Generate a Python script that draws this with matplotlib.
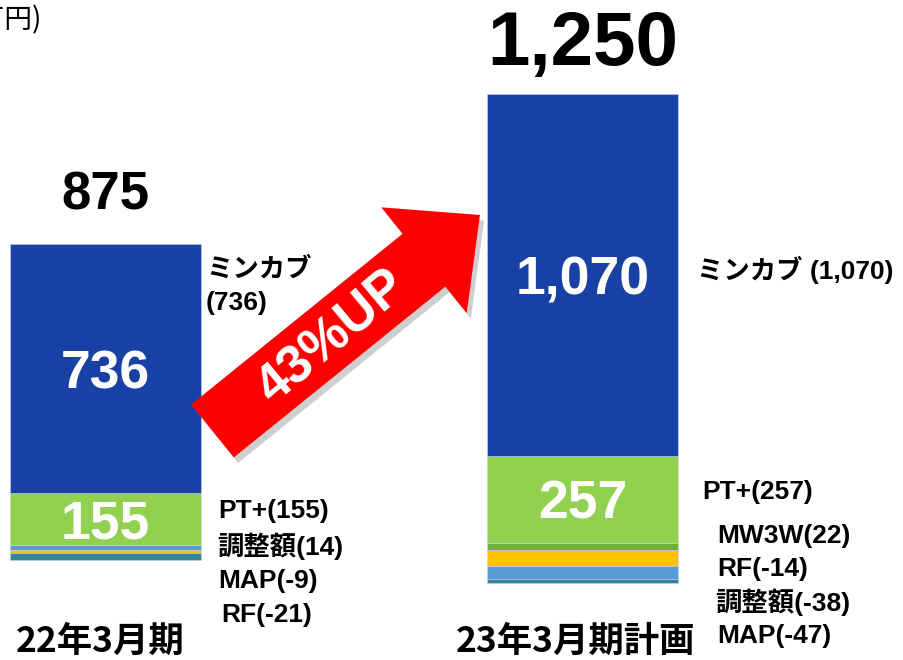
import matplotlib
matplotlib.use("Agg")
import matplotlib.pyplot as plt
import matplotlib.patheffects as pe
from matplotlib.patches import FancyArrow
import numpy as np

categories = ['22年3月期', '23年3月期計画']
totals = [875, 1250]

# segment values per period (stack order from the zero line outwards)
seg_names = ['MAP', '調整額', 'MW3W', 'RF', 'PT+', 'ミンカブ']
seg_values = {
    'MAP': [-9, -47],
    '調整額': [14, -38],
    'MW3W': [0, 22],
    'RF': [-21, -14],
    'PT+': [155, 257],
    'ミンカブ': [736, 1070],
}
seg_colors = {
    'MAP': '#FFC000',
    '調整額': '#5B9BD5',
    'MW3W': '#70AD47',
    'RF': '#31859C',
    'PT+': '#92D050',
    'ミンカブ': '#1941A5',
}
inside_labels = ['ミンカブ', 'PT+']

left_side = ['ミンカブ\n(736)', 'PT+(155)', '調整額(14)', 'MAP(-9)', 'RF(-21)']
right_side = ['ミンカブ (1,070)', 'PT+(257)', 'MW3W(22)', 'RF(-14)', '調整額(-38)', 'MAP(-47)']

FONT = ['Liberation Sans', 'Noto Sans CJK JP', 'DejaVu Sans']
CJK = ['Noto Sans CJK JP', 'DejaVu Sans']

fig = plt.figure(figsize=(9.04, 6.6), dpi=100)
ax = fig.add_axes([0, 0, 1, 1])
ax.set_xlim(-0.2209, 1.6723)
ax.set_ylim(-325.4, 1627.2)
ax.axis('off')

x = np.arange(len(categories))
width = 0.4
pos_base = np.zeros(len(categories))
neg_base = np.zeros(len(categories))
for name in seg_names:
    vals = np.array(seg_values[name], dtype=float)
    base = np.where(vals >= 0, pos_base, neg_base)
    ax.bar(x, vals, width, bottom=base, color=seg_colors[name],
           edgecolor='#c8d4ea', linewidth=0.4)
    if name in inside_labels:
        for xi, b, v in zip(x, base, vals):
            ax.annotate(f'{int(v):,}', (xi, b + v / 2), xytext=(0, -4),
                        textcoords='offset points', ha='center', va='center',
                        color='white', fontsize=38.5, fontweight='bold', family=FONT)
    pos_base = pos_base + np.where(vals > 0, vals, 0)
    neg_base = neg_base + np.where(vals < 0, vals, 0)

# totals above the bars
total_sizes = [38, 55]
total_offsets = [35, 35]
for xi, top, t, fs, off in zip(x, pos_base, totals, total_sizes, total_offsets):
    ax.annotate(f'{t:,}', (xi, top), xytext=(0, off), textcoords='offset points',
                ha='center', va='center', fontsize=fs, fontweight='bold',
                family=FONT, color='black')

# overlay in pixel coordinates for the annotations
ov = fig.add_axes([0, 0, 1, 1])
ov.set_xlim(0, 904)
ov.set_ylim(660, 0)
ov.axis('off')
ov.patch.set_visible(False)

ov.text(42, 20, '（百万円)', ha='right', va='center', fontsize=20, family=CJK)

left_pos = [(206, 286), (218, 511), (217, 546), (218, 581), (221, 615)]
for s, (px, py) in zip(left_side, left_pos):
    ov.text(px, py, s, ha='left', va='center', fontsize=19, fontweight='bold',
            family=FONT, linespacing=1.45)
right_pos = [(697, 270), (702, 492), (717, 536), (717, 569), (715, 602), (717, 636)]
for s, (px, py) in zip(right_side, right_pos):
    ov.text(px, py, s, ha='left', va='center', fontsize=19, fontweight='bold',
            family=FONT)

cat_pos = [(100, 641), (576, 641)]
for s, (px, py) in zip(categories, cat_pos):
    ov.text(px, py, s, ha='center', va='center', fontsize=25.5, fontweight='bold',
            family=CJK)

# red growth arrow
tail = (212.5, 431)
tip = (480, 215)
arrow = FancyArrow(tail[0], tail[1], tip[0] - tail[0], tip[1] - tail[1],
                   width=68, head_width=136, head_length=72,
                   length_includes_head=True, color='#FF0000', lw=0)
arrow.set_path_effects([pe.SimplePatchShadow(offset=(3, -4), shadow_rgbFace='#777777', alpha=0.35),
                        pe.Normal()])
ov.add_patch(arrow)
ov.text(332, 338, '43%UP', ha='center', va='center', rotation=40,
        rotation_mode='anchor', fontsize=38, fontweight='bold', color='white',
        family=FONT)

fig.savefig('out.png', dpi=100)
